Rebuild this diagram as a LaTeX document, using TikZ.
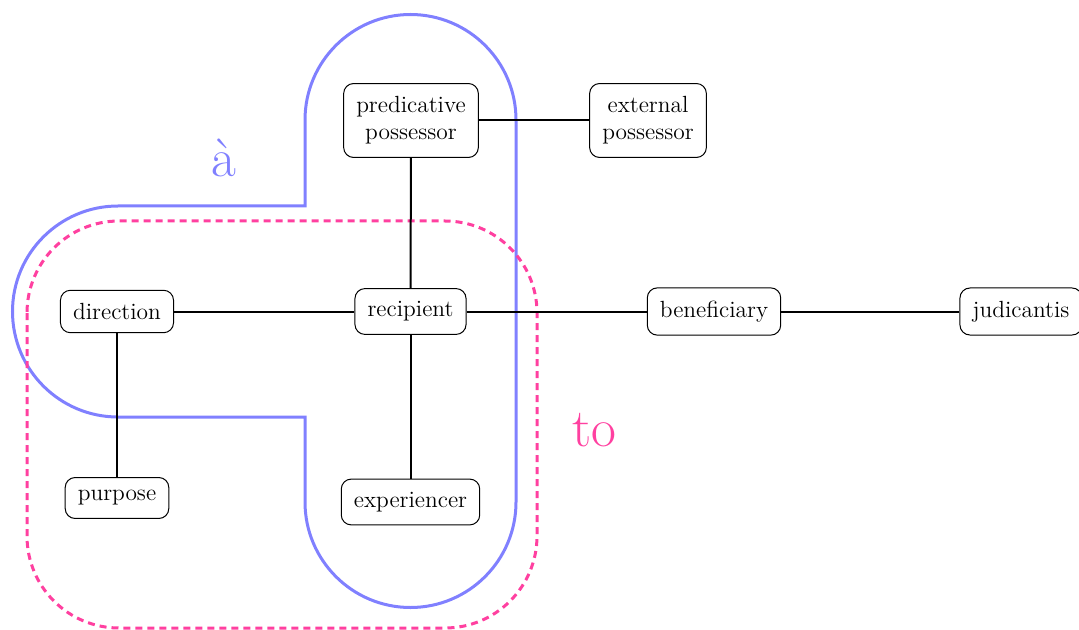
\documentclass[tikz,border=0pt]{standalone}
\definecolor{groupblue}{RGB}{128,128,255}
\definecolor{grouppink}{RGB}{255,64,160}
\begin{document}
\begin{tikzpicture}[x=0.5pt,y=-0.5pt,
  role/.style={draw, rounded corners=5pt, line width=0.5pt, inner xsep=6.3pt, inner ysep=6.5pt,
    align=center, font=\fontsize{11.7}{13.6}\selectfont, fill=white},
  link/.style={line width=1pt},
  blueline/.style={groupblue, line width=1.5pt},
  pinkline/.style={grouppink, line width=1.5pt, dash pattern=on 3.5pt off 2.5pt},
]
\useasboundingbox (0,0) rectangle (1079,630);

% the "a" region: a vertical band joined to a horizontal band
\draw[blueline] (305,120) arc[start angle=180, end angle=360, radius=105.5]
  -- (516,502) arc[start angle=0, end angle=180, radius=105.5]
  -- (305,417) -- (118,417)
  arc[start angle=90, end angle=270, radius=105.5]
  -- (305,206) -- cycle;

% the "to" region
\draw[pinkline, rounded corners=46pt] (27,221) rectangle (537,628);

\node[text=groupblue, font=\fontsize{27}{30}\selectfont] (la) at (224,158) {\`a};
\node[text=grouppink, font=\fontsize{27}{30}\selectfont] (lto) at (594,430) {to};

% roles
\node[role] (pred) at (411,120.5) {predicative\\possessor};
\node[role] (ext) at (648,120.5) {external\\possessor};
\node[role] (dir) at (117,311.5) {direction};
\node[role] (rec) at (410.5,311.5) {recipient};
\node[role] (ben) at (714,311.5) {beneficiary};
\node[role] (jud) at (1021,311.5) {judicantis};
\node[role] (pur) at (117,498) {purpose};
\node[role] (exp) at (410.5,502) {experiencer};

% connections
\draw[link] (pred) -- (ext);
\draw[link] (pred) -- (rec);
\draw[link] (dir) -- (rec);
\draw[link] (rec) -- (ben);
\draw[link] (ben) -- (jud);
\draw[link] (dir) -- (pur);
\draw[link] (rec) -- (exp);
\end{tikzpicture}
\end{document}
